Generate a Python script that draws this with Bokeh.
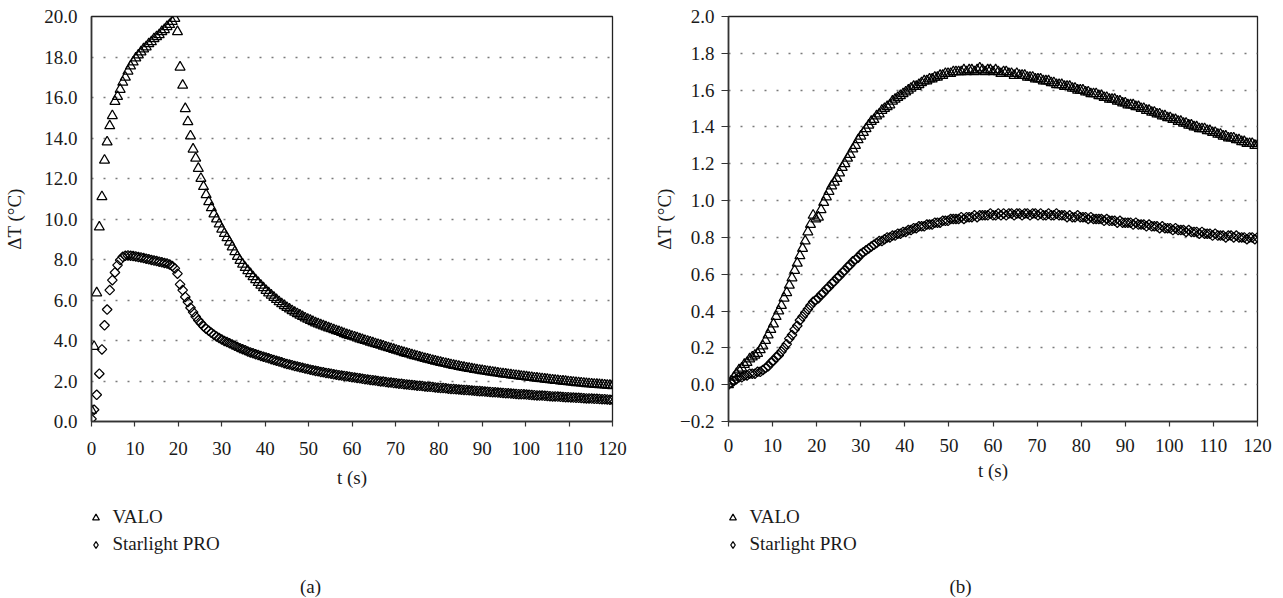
import math
from bokeh.plotting import figure
from bokeh.layouts import row, column
from bokeh.models import Legend, LegendItem, Label, FixedTicker, Range1d, PrintfTickFormatter
from bokeh.embed import file_html
from bokeh.resources import INLINE

FONT = "Liberation Serif"

# ---------------- data, samples every 0.6 s ----------------
DT = 0.6

a_valo = [
    0.55, 3.7, 6.35, 9.6, 11.1, 12.9, 13.8, 14.6, 15.1, 15.8,
    16.05, 16.4, 16.75, 17.0, 17.3, 17.55, 17.75, 17.95, 18.1, 18.25,
    18.4, 18.5, 18.65, 18.75, 18.9, 19.0, 19.1, 19.25, 19.35, 19.5,
    19.6, 19.75, 19.9, 19.25, 17.5, 16.6, 15.45, 14.8, 14.1, 13.45,
    13.0, 12.5, 12.0, 11.6, 11.2, 10.85, 10.55, 10.25, 10.0, 9.75,
    9.5, 9.28, 9.07, 8.85, 8.62, 8.38, 8.15, 7.95, 7.77, 7.6,
    7.45, 7.3, 7.15, 7.0, 6.86, 6.73, 6.6, 6.47, 6.35, 6.24,
    6.13, 6.02, 5.91, 5.81, 5.72, 5.63, 5.55, 5.47, 5.39, 5.32,
    5.25, 5.18, 5.11, 5.05, 4.99, 4.93, 4.87, 4.82, 4.77, 4.72,
    4.67, 4.62, 4.58, 4.53, 4.48, 4.44, 4.39, 4.34, 4.29, 4.25,
    4.21, 4.17, 4.13, 4.08, 4.04, 4.0, 3.96, 3.92, 3.88, 3.84,
    3.8, 3.76, 3.72, 3.68, 3.64, 3.6, 3.56, 3.52, 3.48, 3.44,
    3.4, 3.36, 3.33, 3.29, 3.25, 3.22, 3.18, 3.15, 3.11, 3.08,
    3.05, 3.01, 2.98, 2.95, 2.92, 2.89, 2.86, 2.83, 2.8, 2.77,
    2.75, 2.72, 2.69, 2.67, 2.64, 2.62, 2.6, 2.57, 2.55, 2.53,
    2.51, 2.49, 2.47, 2.45, 2.43, 2.41, 2.39, 2.37, 2.35, 2.34,
    2.32, 2.3, 2.28, 2.27, 2.25, 2.23, 2.22, 2.2, 2.18, 2.17,
    2.15, 2.14, 2.12, 2.11, 2.09, 2.08, 2.06, 2.05, 2.03, 2.02,
    2.0, 1.99, 1.98, 1.96, 1.95, 1.94, 1.92, 1.91, 1.9, 1.89,
    1.87, 1.86, 1.85, 1.84, 1.83, 1.82, 1.81, 1.8, 1.79, 1.78,
    1.77,
]

a_star = [
    0.13, 0.58, 1.32, 2.36, 3.56, 4.75, 5.53, 6.49, 6.98, 7.36,
    7.72, 7.97, 8.13, 8.18, 8.2, 8.19, 8.17, 8.15, 8.12, 8.1,
    8.07, 8.04, 8.01, 7.98, 7.95, 7.92, 7.89, 7.86, 7.83, 7.8,
    7.75, 7.68, 7.56, 7.3, 6.77, 6.49, 6.15, 5.9, 5.62, 5.4,
    5.18, 5.0, 4.85, 4.7, 4.58, 4.48, 4.38, 4.29, 4.2, 4.12,
    4.05, 3.98, 3.92, 3.86, 3.8, 3.74, 3.68, 3.62, 3.57, 3.52,
    3.46, 3.41, 3.37, 3.32, 3.28, 3.24, 3.2, 3.16, 3.12, 3.08,
    3.04, 3.0, 2.96, 2.92, 2.88, 2.84, 2.81, 2.78, 2.74, 2.71,
    2.68, 2.65, 2.62, 2.59, 2.56, 2.53, 2.5, 2.48, 2.45, 2.43,
    2.4, 2.38, 2.36, 2.33, 2.31, 2.29, 2.27, 2.25, 2.23, 2.21,
    2.19, 2.17, 2.15, 2.13, 2.11, 2.09, 2.07, 2.05, 2.04, 2.02,
    2.0, 1.98, 1.97, 1.95, 1.93, 1.92, 1.9, 1.89, 1.87, 1.86,
    1.84, 1.83, 1.81, 1.8, 1.79, 1.77, 1.76, 1.75, 1.73, 1.72,
    1.71, 1.7, 1.68, 1.67, 1.66, 1.65, 1.64, 1.62, 1.61, 1.6,
    1.59, 1.58, 1.57, 1.56, 1.55, 1.54, 1.53, 1.52, 1.51, 1.5,
    1.49, 1.48, 1.47, 1.46, 1.45, 1.44, 1.43, 1.42, 1.41, 1.4,
    1.39, 1.38, 1.37, 1.36, 1.35, 1.35, 1.34, 1.33, 1.32, 1.31,
    1.3, 1.29, 1.28, 1.28, 1.27, 1.26, 1.25, 1.24, 1.24, 1.23,
    1.22, 1.21, 1.2, 1.2, 1.19, 1.18, 1.17, 1.17, 1.16, 1.15,
    1.14, 1.14, 1.13, 1.12, 1.12, 1.11, 1.1, 1.1, 1.09, 1.08,
    1.08,
]

b_valo = [
    0.0, 0.02, 0.04, 0.06, 0.08, 0.09, 0.11, 0.12, 0.14, 0.15,
    0.16, 0.17, 0.19, 0.21, 0.24, 0.27, 0.3, 0.33, 0.37, 0.4,
    0.43, 0.47, 0.5, 0.54, 0.58, 0.62, 0.66, 0.7, 0.74, 0.78,
    0.83, 0.87, 0.92, 0.9, 0.91, 0.95, 0.99, 1.02, 1.05, 1.08,
    1.1, 1.12, 1.15, 1.18, 1.2, 1.23, 1.25, 1.28, 1.3, 1.33,
    1.35, 1.37, 1.39, 1.41, 1.43, 1.44, 1.46, 1.47, 1.49, 1.5,
    1.51, 1.52, 1.54, 1.55, 1.56, 1.57, 1.58, 1.59, 1.6, 1.61,
    1.62, 1.62, 1.63, 1.64, 1.65, 1.65, 1.66, 1.66, 1.67, 1.67,
    1.68, 1.68, 1.69, 1.69, 1.69, 1.7, 1.7, 1.7, 1.7, 1.71,
    1.7, 1.71, 1.71, 1.7, 1.71, 1.72, 1.71, 1.7, 1.71, 1.71,
    1.7, 1.71, 1.7, 1.69, 1.7, 1.7, 1.69, 1.69, 1.68, 1.69,
    1.68, 1.68, 1.68, 1.67, 1.67, 1.67, 1.66, 1.66, 1.66, 1.65,
    1.65, 1.65, 1.64, 1.64, 1.63, 1.63, 1.63, 1.62, 1.62, 1.62,
    1.61, 1.61, 1.6, 1.6, 1.6, 1.59, 1.59, 1.58, 1.58, 1.58,
    1.57, 1.57, 1.56, 1.56, 1.55, 1.55, 1.55, 1.54, 1.54, 1.53,
    1.53, 1.52, 1.52, 1.52, 1.51, 1.51, 1.5, 1.5, 1.49, 1.49,
    1.48, 1.48, 1.47, 1.47, 1.46, 1.46, 1.45, 1.45, 1.44, 1.44,
    1.43, 1.43, 1.42, 1.42, 1.41, 1.41, 1.4, 1.4, 1.39, 1.39,
    1.39, 1.38, 1.38, 1.37, 1.37, 1.36, 1.36, 1.35, 1.35, 1.34,
    1.34, 1.34, 1.33, 1.33, 1.32, 1.32, 1.31, 1.31, 1.31, 1.3,
    1.3,
]

b_star = [
    0.0, 0.01, 0.02, 0.03, 0.04, 0.04, 0.05, 0.05, 0.06, 0.06,
    0.06, 0.07, 0.07, 0.08, 0.09, 0.1, 0.12, 0.13, 0.15, 0.16,
    0.18, 0.2, 0.22, 0.25, 0.27, 0.3, 0.32, 0.35, 0.37, 0.39,
    0.41, 0.43, 0.45, 0.46, 0.47, 0.49, 0.5, 0.52, 0.53, 0.55,
    0.56, 0.58, 0.59, 0.61, 0.62, 0.64, 0.65, 0.67, 0.68, 0.69,
    0.71, 0.72, 0.73, 0.74, 0.75, 0.76, 0.77, 0.78, 0.78, 0.79,
    0.8, 0.8, 0.81, 0.81, 0.82, 0.82, 0.83, 0.83, 0.84, 0.84,
    0.85, 0.85, 0.86, 0.86, 0.86, 0.87, 0.87, 0.87, 0.88, 0.88,
    0.88, 0.89, 0.89, 0.89, 0.9, 0.9, 0.9, 0.9, 0.91, 0.9,
    0.91, 0.91, 0.91, 0.92, 0.91, 0.92, 0.92, 0.92, 0.92, 0.93,
    0.92, 0.92, 0.93, 0.92, 0.93, 0.92, 0.93, 0.93, 0.92, 0.93,
    0.93, 0.92, 0.93, 0.93, 0.92, 0.93, 0.93, 0.92, 0.93, 0.92,
    0.92, 0.93, 0.92, 0.92, 0.93, 0.92, 0.92, 0.92, 0.91, 0.92,
    0.91, 0.91, 0.92, 0.91, 0.91, 0.91, 0.9, 0.91, 0.9, 0.9,
    0.9, 0.9, 0.89, 0.9, 0.89, 0.89, 0.89, 0.88, 0.89, 0.88,
    0.88, 0.88, 0.88, 0.87, 0.88, 0.87, 0.87, 0.87, 0.86, 0.87,
    0.86, 0.86, 0.86, 0.85, 0.86, 0.85, 0.85, 0.85, 0.84, 0.85,
    0.84, 0.84, 0.84, 0.83, 0.84, 0.83, 0.83, 0.83, 0.82, 0.83,
    0.82, 0.82, 0.82, 0.81, 0.82, 0.81, 0.81, 0.81, 0.8, 0.81,
    0.81, 0.8, 0.81, 0.8, 0.8, 0.8, 0.79, 0.8, 0.8, 0.79,
    0.8,
]

x_ticks = [0, 10, 20, 30, 40, 50, 60, 70, 80, 90, 100, 110, 120]
a_y_ticks = [0, 2, 4, 6, 8, 10, 12, 14, 16, 18, 20]
a_y_labels = ["0.0", "2.0", "4.0", "6.0", "8.0", "10.0", "12.0", "14.0", "16.0", "18.0", "20.0"]
b_y_ticks = [-0.2, 0.0, 0.2, 0.4, 0.6, 0.8, 1.0, 1.2, 1.4, 1.6, 1.8, 2.0]
b_y_labels = ["\u22120.2", "0.0", "0.2", "0.4", "0.6", "0.8", "1.0", "1.2", "1.4", "1.6", "1.8", "2.0"]

series_names = ["VALO", "Starlight PRO"]
x_title = "t (s)"
y_title = "\u0394T (\u00b0C)"

FS = "19px"
PLOT_H = 500
KEY_H = 97
MARK = dict(tri=dict(marker="triangle", size=10, fill_color=None, line_color="black", line_width=1.25),
            dia=dict(marker="square", angle=math.pi / 4, size=6.8, fill_color=None,
                     line_color="black", line_width=1.25))
KEY_MARK = dict(tri=dict(marker="triangle", size=10, fill_color=None, line_color="black", line_width=1.25),
                dia=dict(marker="diamond", size=10, fill_color=None, line_color="black", line_width=1.25))
NAN = float("nan")


def times(values):
    return [round(DT * i, 1) for i in range(len(values))]


def make_plot(width, b_left, b_right, y_range, y_ticks, y_labels, valo, star,
              y_tick_out, y_lab_standoff, y_title_standoff, x_lab_standoff, x_title_standoff):
    p = figure(width=width, height=PLOT_H, x_range=Range1d(0, 120),
               y_range=Range1d(*y_range), output_backend="svg",
               toolbar_location=None, title=None,
               min_border_left=b_left, min_border_right=b_right,
               min_border_top=16, min_border_bottom=PLOT_H - 421)
    p.outline_line_color = "#222222"
    p.outline_line_width = 1.3

    xt = FixedTicker(ticks=x_ticks)
    yt = FixedTicker(ticks=y_ticks)
    for ax in (p.xaxis[0], p.yaxis[0]):
        ax.axis_line_color = "#333333"
        ax.axis_line_width = 1.6
        ax.major_tick_line_color = "#333333"
        ax.major_tick_line_width = 1.2
        ax.minor_tick_line_color = None
        ax.major_tick_in = 0
        ax.major_label_text_font = FONT
        ax.major_label_text_font_size = FS
        ax.major_label_text_color = "#1a1a1a"
        ax.axis_label_text_font = FONT
        ax.axis_label_text_font_size = FS
        ax.axis_label_text_font_style = "normal"
        ax.axis_label_text_color = "#1a1a1a"

    xa = p.xaxis[0]
    xa.ticker = xt
    xa.major_tick_out = 5
    xa.major_label_standoff = x_lab_standoff
    xa.axis_label = x_title
    xa.axis_label_standoff = x_title_standoff

    ya = p.yaxis[0]
    ya.ticker = yt
    ya.formatter = PrintfTickFormatter(format="%.1f")
    ya.major_label_overrides = dict(zip(y_ticks, y_labels))
    ya.major_tick_out = y_tick_out
    ya.major_label_standoff = y_lab_standoff
    ya.axis_label = y_title
    ya.axis_label_standoff = y_title_standoff

    p.xgrid.visible = False
    p.ygrid.ticker = yt
    p.ygrid.grid_line_color = "#7a7a7a"
    p.ygrid.grid_line_width = 1.3
    p.ygrid.grid_line_dash = "2 10"

    p.scatter(times(valo), valo, **MARK["tri"])
    p.scatter(times(star), star, **MARK["dia"])
    return p


def make_key(width, frame_x, caption, cap_x):
    # the key's frame lines up with the plot frame above it, so its x range is
    # expressed in page pixels of that frame
    k = figure(width=width, height=KEY_H, x_range=Range1d(*frame_x),
               y_range=Range1d(0, KEY_H), output_backend="svg",
               toolbar_location=None, title=None, x_axis_type=None, y_axis_type=None,
               min_border=0)
    k.outline_line_color = None
    k.xgrid.visible = False
    k.ygrid.visible = False
    # legend-only renderers: one undrawable (NaN) point each, so the key shows their glyphs
    r1 = k.scatter([NAN], [NAN], **KEY_MARK["tri"])
    r2 = k.scatter([NAN], [NAN], **KEY_MARK["dia"])
    legend = Legend(
        items=[LegendItem(label=series_names[0], renderers=[r1]),
               LegendItem(label=series_names[1], renderers=[r2])],
        location=(-4.5, 42), orientation="vertical",
        background_fill_alpha=0, border_line_alpha=0,
        padding=0, margin=0, spacing=5,
        glyph_width=17, glyph_height=17, label_height=21, label_standoff=9,
        label_text_font=FONT, label_text_font_size=FS,
        label_text_color="#1a1a1a",
    )
    k.add_layout(legend)
    k.add_layout(Label(x=cap_x, y=11, text=caption, text_align="center",
                       text_baseline="middle", text_font=FONT, text_font_size=FS,
                       text_color="#1a1a1a"))
    return k


pa = make_plot(648, 91, 36, (0, 20), a_y_ticks, a_y_labels, a_valo, a_star,
               y_tick_out=0, y_lab_standoff=14, y_title_standoff=16,
               x_lab_standoff=15, x_title_standoff=9)
pb = make_plot(632, 80, 23, (-0.2, 2.0), b_y_ticks, b_y_labels, b_valo, b_star,
               y_tick_out=7, y_lab_standoff=7, y_title_standoff=2,
               x_lab_standoff=12, x_title_standoff=5)
ka = make_key(648, (91, 612), "(a)", 310)
kb = make_key(632, (728, 1257), "(b)", 960)

layout = row(column(pa, ka), column(pb, kb))
open("out.html", "w").write(file_html(layout, INLINE))
